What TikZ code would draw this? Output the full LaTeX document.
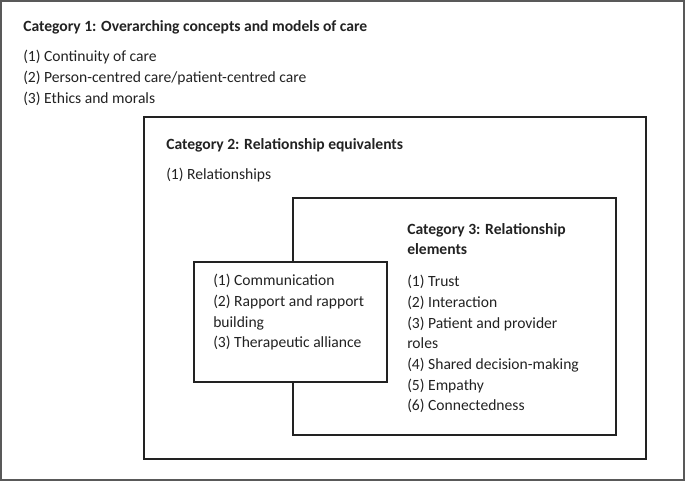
\documentclass[tikz,border=0pt]{standalone}
\usepackage{fontspec}
\setmainfont{Carlito}
\usetikzlibrary{positioning}
\definecolor{ink}{HTML}{222222}

\begin{document}
\begin{tikzpicture}[x=0.75pt,y=-0.75pt]
        \tikzstyle{frame}=[draw=ink,line width=1.3pt]
        \tikzstyle{txt}=[anchor=north west,inner sep=0pt,align=left,text=ink,
                font=\fontsize{11.7}{15.5}\selectfont]
        \tikzstyle{head}=[txt,font=\fontsize{11.7}{15.5}\selectfont\bfseries]

        \useasboundingbox (0,0) rectangle (685,481);

        % boxes
        \draw[draw=ink!75,line width=1pt] (1,1) rectangle (684,480);
        \draw[frame] (144,117) rectangle (646,459);
        \draw[frame] (293,198) rectangle (616,435);
        \draw[frame,fill=white] (194,262) rectangle (387,382);

        % category 1
        \node[head](cat1) at (23,20){Category 1: Overarching concepts and models of care};
        \node[txt](items1) at (23,50){(1) Continuity of care\\
                (2) Person-centred care/patient-centred care\\
                (3) Ethics and morals};

        % category 2
        \node[head](cat2) at (166,138){Category 2: Relationship equivalents};
        \node[txt](items2) at (166,168){(1) Relationships};

        % category 3
        \node[head](cat3) at (407,223){Category 3: Relationship\\elements};
        \node[txt](items3) at (407,275){(1) Trust\\
                (2) Interaction\\
                (3) Patient and provider\\
                roles\\
                (4) Shared decision-making\\
                (5) Empathy\\
                (6) Connectedness};

        % shared elements
        \node[txt](shared) at (213,274){(1) Communication\\
                (2) Rapport and rapport\\
                building\\
                (3) Therapeutic alliance};

    \end{tikzpicture}
\end{document}
